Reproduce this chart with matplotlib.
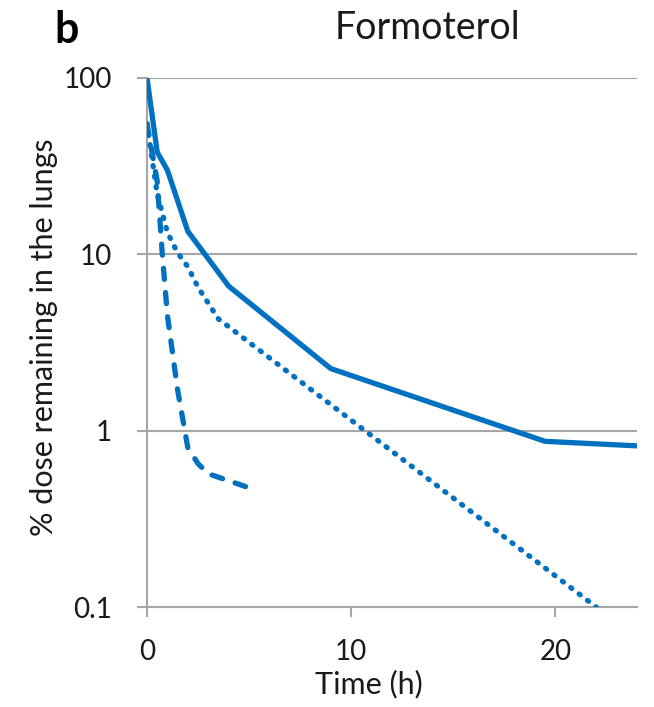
import matplotlib
matplotlib.use("Agg")
import matplotlib.pyplot as plt

plt.rcParams['font.family'] = ['Lato', 'DejaVu Sans']

# Data
solid_t = [0, 0.5, 1, 2, 4, 9, 19.5, 24]
solid_y = [100, 38, 30, 13.5, 6.6, 2.25, 0.87, 0.82]

dotted_t = [0, 0.5, 1, 1.5, 2, 2.5, 3.5, 22]
dotted_y = [55, 22, 13.3, 10.2, 8.5, 6.5, 4.3, 0.1]

dashed_t = [0, 0.5, 0.75, 1, 1.5, 2, 2.5, 3, 4, 5.1]
dashed_y = [55, 26, 10, 4.5, 1.7, 0.8, 0.65, 0.57, 0.52, 0.47]

xticks = [0, 10, 20]
yticks = [0.1, 1, 10, 100]
ytick_labels = ['0.1', '1', '10', '100']

blue = '#0070C0'
grey = '#A6A6A6'
textc = '#1a1a1a'

fig = plt.figure(figsize=(6.54, 7.07), dpi=100)
ax = fig.add_axes([147/654, 1-607/707, (637-147)/654, (607-78)/707])

ax.plot(solid_t, solid_y, color=blue, lw=3.8, solid_joinstyle='round', solid_capstyle='butt', zorder=3)
ax.plot(dotted_t, dotted_y, color=blue, lw=3.8, linestyle=(0, (0.25, 1.75)), dash_capstyle='round', zorder=3)
ax.plot(dashed_t, dashed_y, color=blue, lw=3.8, linestyle=(0, (2.1, 2.5)), dash_capstyle='round', zorder=3)

ax.set_yscale('log')
ax.set_xlim(0, 24)
ax.set_ylim(0.1, 100)
ax.set_xticks(xticks)
ax.set_xticklabels([str(t) for t in xticks])
ax.set_yticks(yticks)
ax.set_yticklabels(ytick_labels)
ax.minorticks_off()
ax.yaxis.grid(True, color=grey, lw=1.5)
ax.set_axisbelow(True)

for s in ['top', 'right']:
    ax.spines[s].set_visible(False)
for s in ['left', 'bottom']:
    ax.spines[s].set_color(grey)
    ax.spines[s].set_linewidth(1.5)

ax.tick_params(axis='both', colors=grey, width=1.5, length=7, labelsize=20, labelcolor=textc)
ax.tick_params(axis='x', pad=16)
ax.tick_params(axis='y', pad=18)

ax.set_xlabel('Time (h)', fontsize=22, color=textc)
ax.xaxis.set_label_coords(0.453, -0.118)
ax.set_ylabel('% dose remaining in the lungs', fontsize=22, color=textc)
ax.yaxis.set_label_coords(-0.182, 0.51)

fig.text(427/654, 1-28/707, 'Formoterol', fontsize=27, ha='center', va='center', color=textc)
fig.text(67/654, 1-30/707, 'b', fontsize=31, fontweight='bold', ha='center', va='center', color='black')

fig.savefig('out.png', dpi=100)
